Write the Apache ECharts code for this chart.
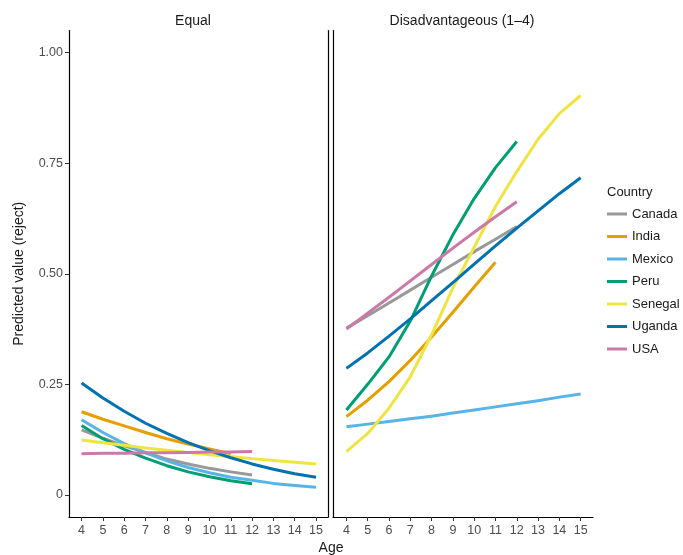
<!DOCTYPE html>
<html>
<head>
<meta charset="utf-8">
<script src="https://cdn.jsdelivr.net/npm/echarts@6/dist/echarts.min.js"></script>
<style>html,body{margin:0;padding:0;background:#fff;}#c{width:683px;height:555px;}</style>
</head>
<body>
<div id="c"></div>
<script>
const ages = [4,5,6,7,8,9,10,11,12,13,14,15];
const countries = ['Canada','India','Mexico','Peru','Senegal','Uganda','USA'];
const colors = ['#999999','#E69F00','#56B4E9','#009E73','#F0E442','#0072B2','#CC79A7'];
const yTicks = [0, 0.25, 0.5, 0.75, 1];
const yTickLabels = ['0','0.25','0.50','0.75','1.00'];
const panelTitles = ['Equal','Disadvantageous (1\u20134)'];

// Equal panel (values by age starting at 4)
const equalCanada  = [0.147,0.128,0.111,0.096,0.081,0.070,0.060,0.052,0.045];
const equalIndia   = [0.188,0.171,0.156,0.141,0.127,0.115,0.104,0.093];
const equalMexico  = [0.170,0.141,0.116,0.095,0.077,0.062,0.050,0.040,0.033,0.026,0.021,0.017];
const equalPeru    = [0.157,0.127,0.103,0.083,0.066,0.052,0.041,0.032,0.025];
const equalSenegal = [0.124,0.118,0.112,0.106,0.101,0.096,0.091,0.087,0.082,0.078,0.074,0.070];
const equalUganda  = [0.253,0.219,0.189,0.162,0.139,0.118,0.100,0.084,0.070,0.058,0.048,0.040];
const equalUSA     = [0.093,0.094,0.094,0.095,0.095,0.096,0.097,0.097,0.098];

// Disadvantageous panel
const disCanada  = [0.377,0.405,0.434,0.463,0.492,0.521,0.550,0.578,0.607];
const disIndia   = [0.177,0.214,0.256,0.304,0.357,0.413,0.470,0.526];
const disMexico  = [0.154,0.160,0.166,0.172,0.178,0.185,0.192,0.199,0.206,0.213,0.221,0.228];
const disPeru    = [0.192,0.250,0.312,0.393,0.495,0.588,0.670,0.740,0.799];
const disSenegal = [0.098,0.139,0.196,0.267,0.362,0.468,0.560,0.652,0.731,0.804,0.862,0.903];
const disUganda  = [0.286,0.321,0.359,0.398,0.439,0.480,0.522,0.563,0.603,0.642,0.681,0.717];
const disUSA     = [0.375,0.411,0.447,0.484,0.521,0.558,0.594,0.629,0.663];

const equalData = [equalCanada,equalIndia,equalMexico,equalPeru,equalSenegal,equalUganda,equalUSA];
const disData = [disCanada,disIndia,disMexico,disPeru,disSenegal,disUganda,disUSA];

const font = 'Liberation Sans, Arial, Helvetica, sans-serif';
const toPairs = arr => arr.map((v,i)=>[ages[i], v]);

const series = [];
[equalData, disData].forEach((panel, gi) => {
  panel.forEach((vals, ci) => {
    series.push({
      name: countries[ci], type: 'line', xAxisIndex: gi, yAxisIndex: gi === 0 ? 0 : 2,
      data: toPairs(vals), showSymbol: false, smooth: false,
      lineStyle: {width: 3, color: colors[ci], join: 'round'}, itemStyle: {color: colors[ci]},
      z: 2 + ci, silent: true, animation: false
    });
  });
});

const xAxisBase = {
  type: 'value', min: 3.41, max: 15.56,
  axisLine: {show: true, onZero: false, lineStyle: {color: '#000', width: 1.2}},
  axisTick: {show: true, length: 4, lineStyle: {color: '#333', width: 1}, customValues: ages},
  axisLabel: {color: '#4d4d4d', fontSize: 12.5, fontFamily: font, margin: 7, customValues: ages},
  splitLine: {show: false}
};
const yAxisBase = {
  type: 'value', min: -0.05, max: 1.05,
  axisLine: {show: true, onZero: false, lineStyle: {color: '#000', width: 1.2}},
  splitLine: {show: false}
};

const chart = echarts.init(document.getElementById('c'), null, {renderer: 'canvas'});
chart.setOption({
  animation: false,
  backgroundColor: '#fff',
  color: colors,
  grid: [
    {left: 69, top: 30.5, width: 259, height: 486.5},
    {left: 333, top: 30.5, width: 260, height: 486.5}
  ],
  title: [
    {text: panelTitles[0], left: 193, top: 14, textAlign: 'center', padding: 0,
     textStyle: {fontSize: 14, fontWeight: 'normal', color: '#1a1a1a', fontFamily: font}},
    {text: panelTitles[1], left: 462, top: 14, textAlign: 'center', padding: 0,
     textStyle: {fontSize: 14, fontWeight: 'normal', color: '#1a1a1a', fontFamily: font}},
    {text: 'Country', left: 607, top: 186, padding: 0,
     textStyle: {fontSize: 13, fontWeight: 'normal', color: '#1a1a1a', fontFamily: font}}
  ],
  legend: {
    data: countries, orient: 'vertical', left: 607, top: 207, padding: 0,
    icon: 'rect', itemWidth: 20, itemHeight: 3, itemGap: 8.5, itemTextGap: 5,
    textStyle: {fontSize: 13, color: '#1a1a1a', fontFamily: font, lineHeight: 14},
    selectedMode: false
  },
  xAxis: [
    Object.assign({}, xAxisBase, {gridIndex: 0}),
    Object.assign({}, xAxisBase, {gridIndex: 1, min: 3.37, max: 15.58})
  ],
  yAxis: [
    Object.assign({}, yAxisBase, {
      gridIndex: 0, position: 'left',
      axisTick: {show: true, length: 4, lineStyle: {color: '#333'}, customValues: yTicks},
      axisLabel: {color: '#4d4d4d', fontSize: 12.5, fontFamily: font, margin: 6,
        customValues: yTicks, formatter: v => yTickLabels[yTicks.indexOf(v)] ?? ''},
      name: 'Predicted value (reject)', nameLocation: 'middle', nameGap: 43,
      nameTextStyle: {fontSize: 14, color: '#1a1a1a', fontFamily: font}
    }),
    Object.assign({}, yAxisBase, {
      gridIndex: 0, position: 'right',
      axisTick: {show: false}, axisLabel: {show: false}
    }),
    Object.assign({}, yAxisBase, {
      gridIndex: 1, position: 'left',
      axisTick: {show: false}, axisLabel: {show: false}
    })
  ],
  graphic: [
    {type: 'text', style: {text: 'Age', fontSize: 14, fill: '#1a1a1a',
      fontFamily: font, x: 331, y: 541, textAlign: 'center'}}
  ],
  series: series
});
</script>
</body>
</html>
